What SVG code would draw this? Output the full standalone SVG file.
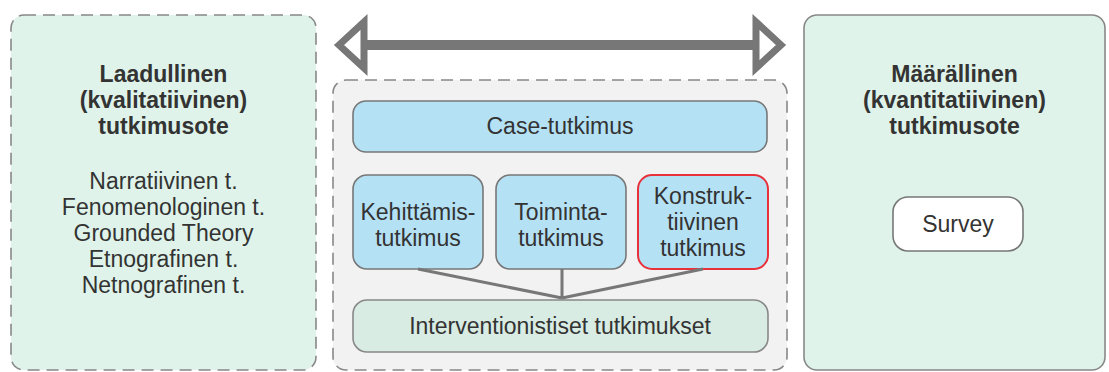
<svg xmlns="http://www.w3.org/2000/svg" width="1109" height="372" viewBox="0 0 1109 372">
  <style>
    text { font-family: "Liberation Sans", Arial, sans-serif; font-size: 23px; fill: #333; text-anchor: middle; }
    .title { font-weight: bold; }
    .panel { fill: #dff3ea; }
    .dashed { stroke: #888; stroke-width: 1.6; stroke-dasharray: 12 7; }
    .solid { stroke: #888; stroke-width: 1.6; }
    .blue { fill: #b5e1f5; stroke: #777; stroke-width: 1.6; }
    .red { fill: #b5e1f5; stroke: #e8313a; stroke-width: 2; }
    .green { fill: #d8ece3; stroke: #888; stroke-width: 1.6; }
    .white { fill: #fff; stroke: #777; stroke-width: 1.6; }
    .link { stroke: #777; stroke-width: 3; fill: none; }
    .arrow { stroke: #777; fill: #fff; stroke-width: 7; stroke-linejoin: miter; }
  </style>

  <rect width="1109" height="372" fill="#fff"/>

  <!-- qualitative approach -->
  <g id="qualitative">
    <rect class="panel dashed" x="11" y="15" width="305" height="355" rx="13"/>
    <text class="title" x="163.5" y="82">Laadullinen</text>
    <text class="title" x="163.5" y="108">(kvalitatiivinen)</text>
    <text class="title" x="163.5" y="134">tutkimusote</text>
    <text x="163.5" y="189">Narratiivinen t.</text>
    <text x="163.5" y="215">Fenomenologinen t.</text>
    <text x="163.5" y="241">Grounded Theory</text>
    <text x="163.5" y="267">Etnografinen t.</text>
    <text x="163.5" y="293">Netnografinen t.</text>
  </g>

  <!-- quantitative approach -->
  <g id="quantitative">
    <rect class="panel solid" x="804" y="15" width="301" height="355" rx="13"/>
    <text class="title" x="954.5" y="82">Määrällinen</text>
    <text class="title" x="954.5" y="108">(kvantitatiivinen)</text>
    <text class="title" x="954.5" y="134">tutkimusote</text>
  </g>
  <g id="survey">
    <rect class="white" x="893" y="197" width="130" height="54" rx="15"/>
    <text x="958" y="232">Survey</text>
  </g>

  <!-- middle ground -->
  <g id="mixed">
    <rect fill="#f2f2f2" class="dashed" x="333" y="80" width="454" height="290" rx="13"/>
  </g>
  <g id="case">
    <rect class="blue" x="353" y="101" width="414" height="51" rx="13"/>
    <text x="560" y="134">Case-tutkimus</text>
  </g>
  <g id="kehittamis">
    <rect class="blue" x="353" y="175" width="130" height="94" rx="14"/>
    <text x="418" y="220">Kehittämis-</text>
    <text x="418" y="246">tutkimus</text>
  </g>
  <g id="toiminta">
    <rect class="blue" x="496" y="175" width="130" height="94" rx="14"/>
    <text x="561" y="220">Toiminta-</text>
    <text x="561" y="246">tutkimus</text>
  </g>
  <g id="konstruktiivinen">
    <rect class="red" x="638" y="175" width="130" height="94" rx="14"/>
    <text x="703" y="204">Konstruk-</text>
    <text x="703" y="230">tiivinen</text>
    <text x="703" y="256">tutkimus</text>
  </g>
  <g id="interventionistiset">
    <rect class="green" x="353" y="300" width="415" height="52" rx="14"/>
    <text x="560" y="334">Interventionistiset tutkimukset</text>
  </g>

  <!-- connectors -->
  <g id="connectors">
    <path class="link" d="M418 269 L562 298 M562 269 L562 298 M703 269 L562 298"/>
    <line x1="364" y1="45" x2="756" y2="45" stroke="#777" stroke-width="10"/>
    <polygon class="arrow" points="339,45 364,22 364,68"/>
    <polygon class="arrow" points="781,45 756,22 756,68"/>
  </g>
</svg>
